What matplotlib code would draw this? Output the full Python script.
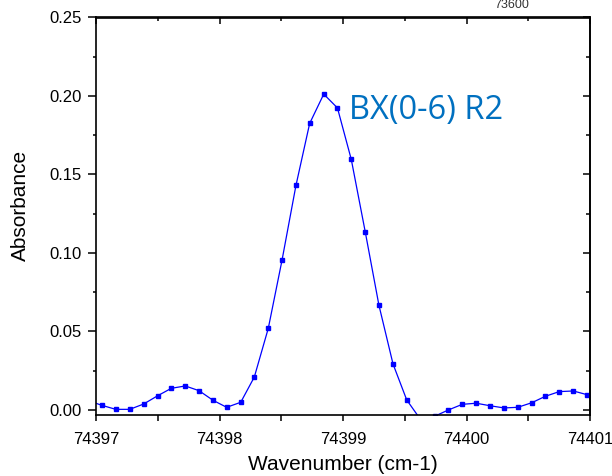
import matplotlib
matplotlib.use('Agg')
import matplotlib.pyplot as plt
from matplotlib.ticker import MultipleLocator

# wavenumber (cm-1) and absorbance
wavenumber = [74396.933, 74397.046, 74397.160, 74397.273, 74397.386, 74397.500,
              74397.610, 74397.723, 74397.834, 74397.947, 74398.058, 74398.172,
              74398.282, 74398.395, 74398.506, 74398.619, 74398.730, 74398.844,
              74398.955, 74399.067, 74399.181, 74399.291, 74399.405, 74399.516,
              74399.629, 74399.742, 74399.853, 74399.966, 74400.079, 74400.190,
              74400.304, 74400.415, 74400.528, 74400.638, 74400.751, 74400.865,
              74400.978, 74401.091]
absorbance = [0.0061, 0.0030, 0.0004, 0.0004, 0.0038, 0.0091,
              0.0138, 0.0153, 0.0123, 0.0062, 0.0017, 0.0049,
              0.0210, 0.0520, 0.0953, 0.1430, 0.1825, 0.2012,
              0.1924, 0.1596, 0.1131, 0.0667, 0.0293, 0.0064,
              -0.0062, -0.0040, 0.0000, 0.0036, 0.0043, 0.0027,
              0.0013, 0.0017, 0.0046, 0.0087, 0.0117, 0.0121,
              0.0097, 0.0075]

x_ticks = [74397, 74398, 74399, 74400, 74401]
y_ticks = [0.00, 0.05, 0.10, 0.15, 0.20, 0.25]

plt.rcParams['font.family'] = ['Liberation Sans', 'DejaVu Sans']

fig = plt.figure(figsize=(6.12, 4.76), dpi=100)
ax = fig.add_axes([96 / 612, 1 - 415 / 476, 494 / 612, (415 - 17.5) / 476])

ax.plot(wavenumber, absorbance, color='#0000ff', lw=0.9,
        marker='s', ms=2.6, mec='#0000ff', mfc='#0000ff')

ax.set_xlim(74397, 74401)
ax.set_ylim(-0.0032, 0.25)
ax.set_xticks(x_ticks)
ax.set_yticks(y_ticks)
ax.xaxis.set_minor_locator(MultipleLocator(0.5))
ax.yaxis.set_minor_locator(MultipleLocator(0.025))
ax.set_xticklabels([str(t) for t in x_ticks])
ax.set_yticklabels(['%.2f' % t for t in y_ticks])

# bottom / left: ticks pointing out
ax.tick_params(which='both', direction='out', top=False, right=False,
               labelsize=12, width=1.1, color='black')
ax.tick_params(axis='x', which='major', length=4, pad=8)
ax.tick_params(axis='x', which='minor', length=4)
ax.tick_params(axis='y', which='major', length=6, pad=4)
ax.tick_params(axis='y', which='minor', length=2)

# top / right: ticks pointing in, no labels
top = ax.secondary_xaxis('top')
top.xaxis.set_major_locator(MultipleLocator(1))
top.xaxis.set_minor_locator(MultipleLocator(0.5))
top.tick_params(which='both', direction='in', labeltop=False, width=1.1)
top.tick_params(which='major', length=5)
top.tick_params(which='minor', length=3)
right = ax.secondary_yaxis('right')
right.yaxis.set_major_locator(MultipleLocator(0.05))
right.yaxis.set_minor_locator(MultipleLocator(0.025))
right.tick_params(which='both', direction='in', labelright=False, width=1.1)
right.tick_params(which='major', length=5)
right.tick_params(which='minor', length=3)

for sp in list(ax.spines.values()) + [top.spines['top'], right.spines['right']]:
    sp.set_linewidth(1.2)

ax.set_xlabel('Wavenumber (cm-1)', fontsize=15)
ax.set_ylabel('Absorbance', fontsize=15)
ax.xaxis.label.set_va('center')
ax.xaxis.set_label_coords(0.5, -0.125)
ax.yaxis.label.set_va('center')
ax.yaxis.set_label_coords(-0.152, 0.526)

ax.text(74399.05, 0.1855, 'BX(0-6) R2', fontsize=23.5, color='#0070c0',
        family=['Open Sans', 'DejaVu Sans'], va='baseline', ha='left')

# stray label cut off at the top edge of the figure
fig.text(512 / 612, 1 - 8 / 476, '73600', fontsize=9, color='#333333',
         ha='center', va='baseline')

fig.savefig('out.png', dpi=100)
